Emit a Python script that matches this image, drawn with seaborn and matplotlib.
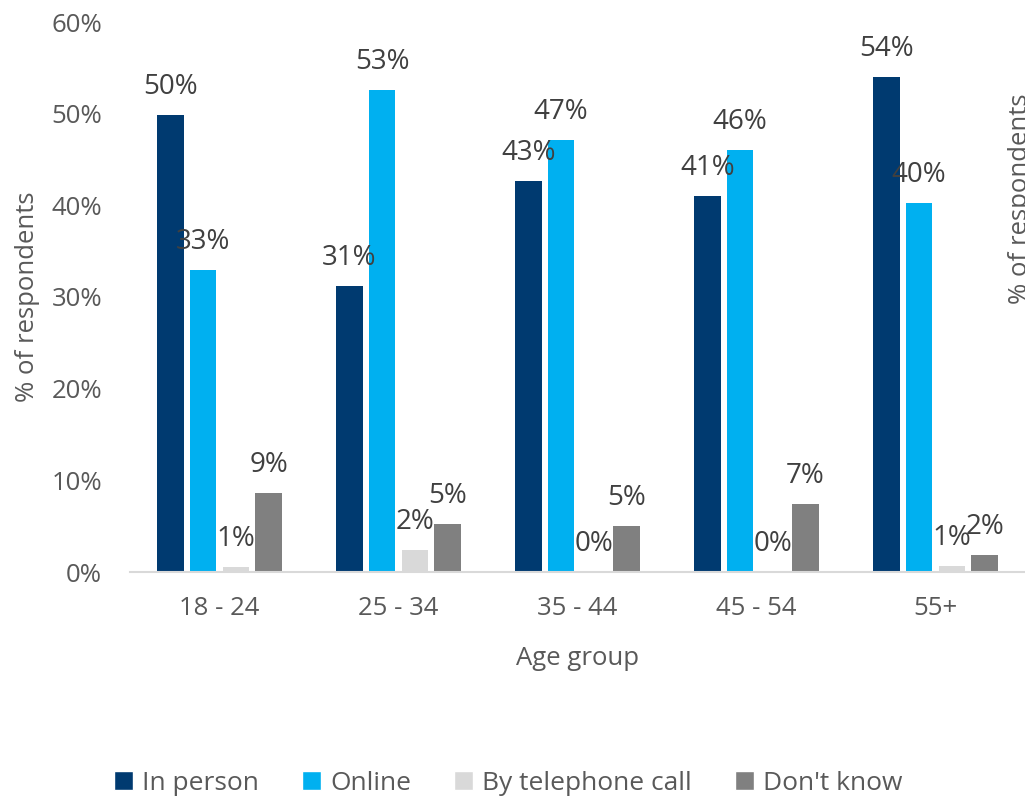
import matplotlib
matplotlib.use("Agg")
import matplotlib.pyplot as plt
import seaborn as sns
import pandas as pd
from matplotlib.patches import Patch

age_groups = ['18 - 24', '25 - 34', '35 - 44', '45 - 54', '55+']
series = ['In person', 'Online', 'By telephone call', "Don't know"]
in_person = [49.9, 31.2, 42.7, 41.0, 54.0]
online = [33.0, 52.6, 47.1, 46.0, 40.3]
telephone = [0.6, 2.4, 0.0, 0.0, 0.7]
dont_know = [8.6, 5.2, 5.0, 7.4, 1.9]
colors = ['#003A70', '#00B0F0', '#D9D9D9', '#808080']

df = pd.DataFrame({
    'Age group': age_groups * 4,
    'Mode': [s for s in series for _ in age_groups],
    'Share': in_person + online + telephone + dont_know,
})

sns.set_style('white')
plt.rcParams['font.family'] = ['Open Sans', 'DejaVu Sans']

fig = plt.figure(figsize=(10.25, 7.99), dpi=100)
ax = fig.add_axes([130 / 1025, 227 / 799, 895 / 1025, 550 / 799])

sns.barplot(data=df, x='Age group', y='Share', hue='Mode', hue_order=series,
            order=age_groups, palette=colors, width=0.73, gap=0.2,
            linewidth=0, saturation=1, legend=False, ax=ax)

for container in ax.containers:
    labels = [f'{b.get_height():.0f}%' for b in container]
    ax.bar_label(container, labels=labels, padding=10, fontsize=20, color='#404040')

ax.set_ylim(0, 60)
ax.set_xlim(-0.5, 4.5)
ax.set_yticks(range(0, 61, 10))
ax.set_yticklabels([f'{v}%' for v in range(0, 61, 10)])
ax.tick_params(axis='y', length=0, pad=20, labelsize=18.5, labelcolor='#595959')
ax.tick_params(axis='x', length=0, pad=17, labelsize=18.5, labelcolor='#595959')

for side in ['top', 'right', 'left']:
    ax.spines[side].set_visible(False)
ax.spines['bottom'].set_color('#D9D9D9')
ax.spines['bottom'].set_linewidth(1.5)

ax.set_xlabel('Age group', fontsize=18.5, color='#595959', labelpad=18)
ax.set_ylabel('% of respondents', fontsize=18.5, color='#595959', va='center')
ax.yaxis.set_label_coords(-0.115, 0.5)

# secondary axis title, cut off at the right edge like the original
fig.text(1008 / 1025, (799 - 199) / 799, '% of respondents', rotation=90,
         ha='left', va='center', fontsize=18.5, color='#595959')

handles = [Patch(facecolor=c, label=s) for c, s in zip(colors, series)]
fig.legend(handles=handles, loc='center', bbox_to_anchor=(0.496, 0.02), ncol=4,
           frameon=False, fontsize=19, handlelength=0.7, handleheight=0.75,
           handletextpad=0.35, columnspacing=1.65, labelcolor='#595959')

fig.savefig('out.png', dpi=100)
